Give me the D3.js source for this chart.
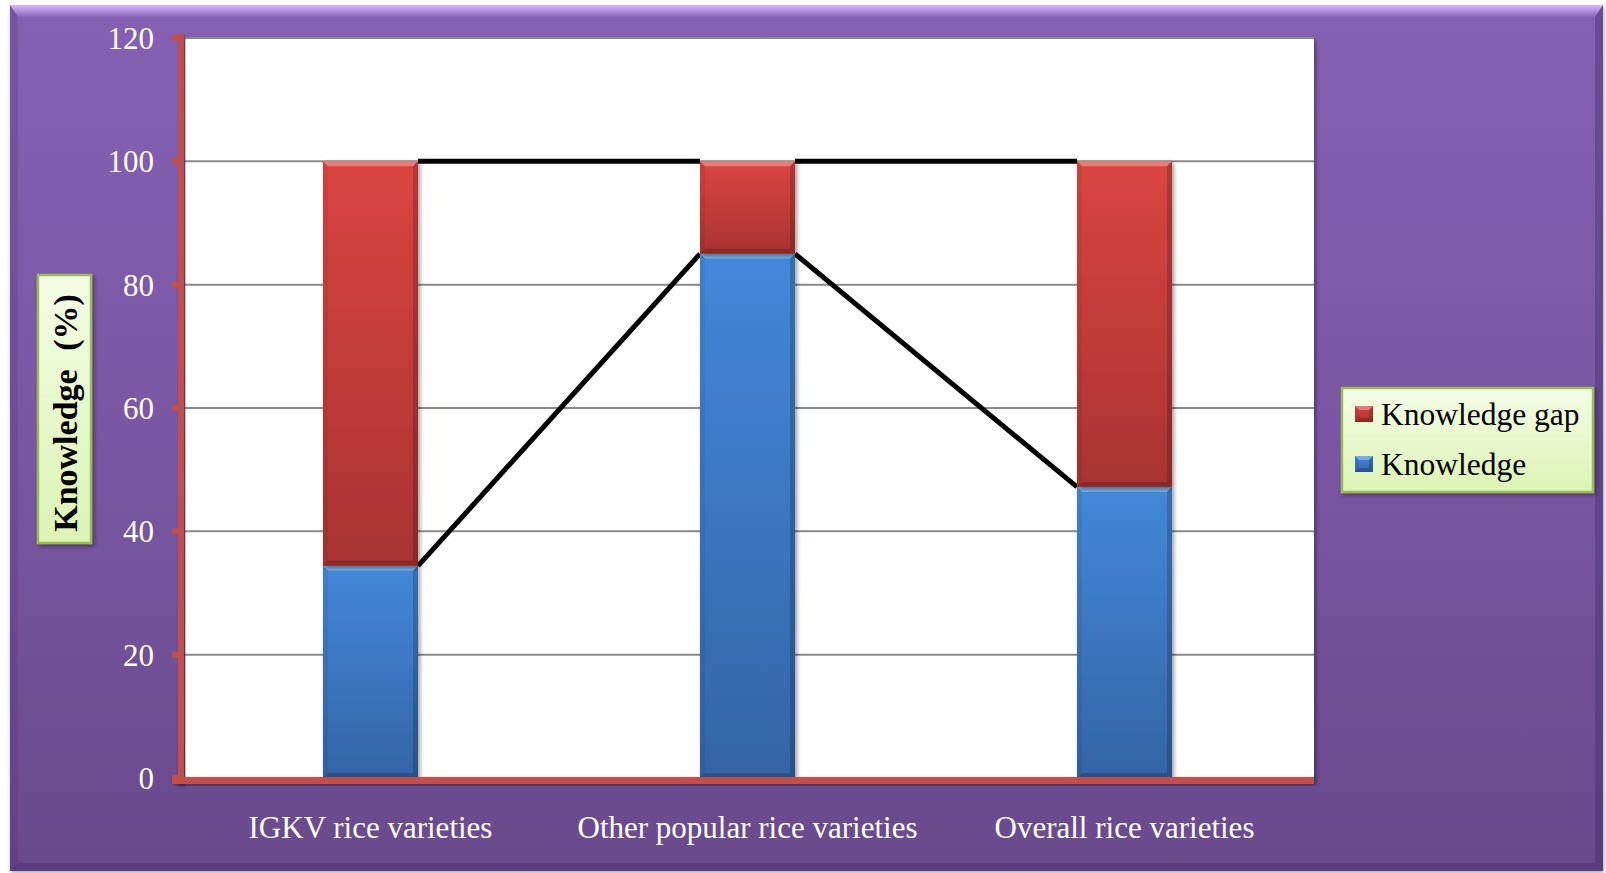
<!DOCTYPE html>
<html>
<head>
<meta charset="utf-8">
<script src="https://cdn.jsdelivr.net/npm/d3@7"></script>
<style>
  html, body { margin: 0; padding: 0; background: #ffffff; }
  svg { display: block; }
</style>
</head>
<body>
<svg id="chart" width="1606" height="873"></svg>
<script>
// Knowledge and knowledge gap about rice varieties (percent of respondents)
const categories = ["IGKV rice varieties", "Other popular rice varieties", "Overall rice varieties"];
const knowledge = [34.4, 85.0, 47.2];
const knowledgeGap = [65.6, 15.0, 52.8];
const yTicks = [0, 20, 40, 60, 80, 100, 120];
const seriesNames = ["Knowledge gap", "Knowledge"];

const svg = d3.select("#chart");
const defs = svg.append("defs");
const serif = "'Liberation Serif', 'Times New Roman', serif";

// ---------- gradients & filters ----------
function linGrad(id, stops, x2 = "0", y2 = "1") {
  const g = defs.append("linearGradient").attr("id", id)
    .attr("x1", "0").attr("y1", "0").attr("x2", x2).attr("y2", y2);
  stops.forEach(([o, c]) => g.append("stop").attr("offset", o).attr("stop-color", c));
}
linGrad("frameFill", [[0, "#8661b3"], [0.5, "#7957a3"], [1, "#684a8c"]]);
linGrad("redFill", [[0, "#db4541"], [1, "#a83331"]]);
linGrad("blueFill", [[0, "#4388da"], [1, "#3464a6"]]);
linGrad("greenBox", [[0, "#f4fde6"], [1, "#dcf4b4"]]);
linGrad("topBevel", [[0, "#d6b8fb"], [1, "#8a66b8"]]);

const shadow = defs.append("filter").attr("id", "shadow")
  .attr("x", "-10%").attr("y", "-10%").attr("width", "130%").attr("height", "130%");
shadow.append("feDropShadow").attr("dx", 2).attr("dy", 2).attr("stdDeviation", 2)
  .attr("flood-color", "#000").attr("flood-opacity", 0.4);

const frameShadow = defs.append("filter").attr("id", "frameShadow")
  .attr("x", "-2%").attr("y", "-2%").attr("width", "104%").attr("height", "104%");
frameShadow.append("feDropShadow").attr("dx", 1).attr("dy", 2).attr("stdDeviation", 2)
  .attr("flood-color", "#000").attr("flood-opacity", 0.35);

// ---------- outer frame with bevel ----------
const F = { x0: 10, y0: 5, x1: 1603, y1: 871 };
const bv = 8;
svg.append("rect")
  .attr("x", F.x0).attr("y", F.y0)
  .attr("width", F.x1 - F.x0).attr("height", F.y1 - F.y0)
  .attr("fill", "url(#frameFill)")
  .attr("filter", "url(#frameShadow)");
const poly = (pts, fill, op) => svg.append("polygon")
  .attr("points", pts.map(p => p.join(",")).join(" "))
  .attr("fill", fill).attr("fill-opacity", op);
poly([[F.x0, F.y0], [F.x1, F.y0], [F.x1 - bv, F.y0 + bv + 4], [F.x0 + bv, F.y0 + bv + 4]], "url(#topBevel)", 1);
poly([[F.x0, F.y0], [F.x0 + bv, F.y0 + bv + 4], [F.x0 + bv, F.y1 - bv], [F.x0, F.y1]], "#4a3070", 0.25);
poly([[F.x1, F.y0], [F.x1, F.y1], [F.x1 - bv, F.y1 - bv], [F.x1 - bv, F.y0 + bv + 4]], "#3b2460", 0.35);
poly([[F.x0, F.y1], [F.x0 + bv, F.y1 - bv], [F.x1 - bv, F.y1 - bv], [F.x1, F.y1]], "#3b2460", 0.35);

// ---------- plot area ----------
const plot = { left: 185, right: 1314, top: 38, bottom: 778 };
const y = d3.scaleLinear().domain([0, 120]).range([plot.bottom, plot.top]);
const x = d3.scaleBand().domain(categories).range([182, 1313])
  .paddingInner(0.748).paddingOuter(0.374);

svg.append("rect")
  .attr("x", plot.left).attr("y", plot.top)
  .attr("width", plot.right - plot.left).attr("height", plot.bottom - plot.top)
  .attr("fill", "#ffffff").attr("filter", "url(#shadow)");

// gridlines
svg.append("g").selectAll("line").data(yTicks.filter(d => d > 0)).join("line")
  .attr("x1", plot.left).attr("x2", plot.right)
  .attr("y1", d => y(d)).attr("y2", d => y(d))
  .attr("stroke", "#8a8a8a").attr("stroke-width", 2);

// ---------- series lines connecting stacked tops ----------
const tops = categories.map((c, i) => ({ c, k: knowledge[i], t: knowledge[i] + knowledgeGap[i] }));
const lineG = svg.append("g");
for (let i = 0; i < tops.length - 1; i++) {
  const a = tops[i], b = tops[i + 1];
  ["k", "t"].forEach(key => {
    lineG.append("line")
      .attr("x1", x(a.c) + x.bandwidth()).attr("y1", y(a[key]))
      .attr("x2", x(b.c)).attr("y2", y(b[key]))
      .attr("stroke", "#000").attr("stroke-width", 5);
  });
}

// ---------- stacked bars with bevel ----------
const stackData = categories.map((c, i) => ({ cat: c, Knowledge: knowledge[i], "Knowledge gap": knowledgeGap[i] }));
const stacked = d3.stack().keys(["Knowledge", "Knowledge gap"])(stackData);
const fills = { "Knowledge": "url(#blueFill)", "Knowledge gap": "url(#redFill)" };

function bevelBox(g, x0, y0, w, h, b) {
  const x1 = x0 + w, y1 = y0 + h;
  const p = (pts, fill, op) => g.append("polygon")
    .attr("points", pts.map(q => q.join(",")).join(" "))
    .attr("fill", fill).attr("fill-opacity", op);
  p([[x0, y0], [x1, y0], [x1 - b, y0 + b], [x0 + b, y0 + b]], "#ffffff", 0.3);
  p([[x0, y0], [x0 + b, y0 + b], [x0 + b, y1 - b], [x0, y1]], "#000000", 0.06);
  p([[x1, y0], [x1, y1], [x1 - b, y1 - b], [x1 - b, y0 + b]], "#000000", 0.18);
  p([[x0, y1], [x0 + b, y1 - b], [x1 - b, y1 - b], [x1, y1]], "#000000", 0.18);
}

const barG = svg.append("g");
stacked.forEach(layer => {
  layer.forEach(seg => {
    const bx = x(seg.data.cat), bw = x.bandwidth();
    const by = y(seg[1]), bh = y(seg[0]) - y(seg[1]);
    const g = barG.append("g");
    g.append("rect")
      .attr("x", bx).attr("y", by).attr("width", bw).attr("height", bh)
      .attr("fill", fills[layer.key]).attr("filter", "url(#shadow)");
    bevelBox(g, bx, by, bw, bh, 5);
  });
});

// ---------- axes ----------
const axisColor = "#c0504d";
// vertical axis line
svg.append("rect").attr("x", 178).attr("y", plot.top - 4)
  .attr("width", 6).attr("height", plot.bottom - plot.top + 10)
  .attr("fill", axisColor).attr("filter", "url(#shadow)");
// horizontal axis line
svg.append("rect").attr("x", 172).attr("y", plot.bottom - 1)
  .attr("width", plot.right - 172).attr("height", 7)
  .attr("fill", axisColor).attr("filter", "url(#shadow)");
// ticks
svg.append("g").selectAll("rect").data(yTicks).join("rect")
  .attr("x", 172).attr("y", d => y(d) - 3)
  .attr("width", 12).attr("height", 6)
  .attr("fill", axisColor);
// tick labels
svg.append("g").selectAll("text").data(yTicks).join("text")
  .attr("x", 154).attr("y", d => y(d) + 11)
  .attr("text-anchor", "end")
  .attr("font-family", serif).attr("font-size", 31)
  .attr("fill", "#ffffff")
  .text(d => d);
// category labels
svg.append("g").selectAll("text").data(categories).join("text")
  .attr("x", d => x(d) + x.bandwidth() / 2).attr("y", 838)
  .attr("text-anchor", "middle")
  .attr("font-family", serif).attr("font-size", 31)
  .attr("fill", "#ffffff")
  .text(d => d);

// ---------- y-axis title ----------
svg.append("rect").attr("x", 38).attr("y", 275).attr("width", 53).attr("height", 268)
  .attr("fill", "url(#greenBox)").attr("stroke", "#9bbb59").attr("stroke-width", 2.5)
  .attr("filter", "url(#shadow)");
svg.append("text")
  .attr("transform", "translate(77,413) rotate(-90)")
  .attr("text-anchor", "middle")
  .attr("font-family", serif).attr("font-size", 34).attr("font-weight", "bold")
  .attr("word-spacing", 10)
  .attr("fill", "#000000")
  .text("Knowledge (%)");

// ---------- legend ----------
const lg = svg.append("g");
lg.append("rect").attr("x", 1342).attr("y", 388).attr("width", 251).attr("height", 104)
  .attr("fill", "url(#greenBox)").attr("stroke", "#9bbb59").attr("stroke-width", 2.5)
  .attr("filter", "url(#shadow)");
const legendFill = { "Knowledge gap": "url(#redFill)", "Knowledge": "url(#blueFill)" };
seriesNames.forEach((name, i) => {
  const cy = 414 + i * 50;
  const g = lg.append("g");
  g.append("rect").attr("x", 1355).attr("y", cy - 8).attr("width", 18).attr("height", 16)
    .attr("fill", legendFill[name]);
  bevelBox(g, 1355, cy - 8, 18, 16, 4);
  lg.append("text").attr("x", 1381).attr("y", cy + 11)
    .attr("font-family", serif).attr("font-size", 31.5).attr("fill", "#000000")
    .text(name);
});
</script>
</body>
</html>
